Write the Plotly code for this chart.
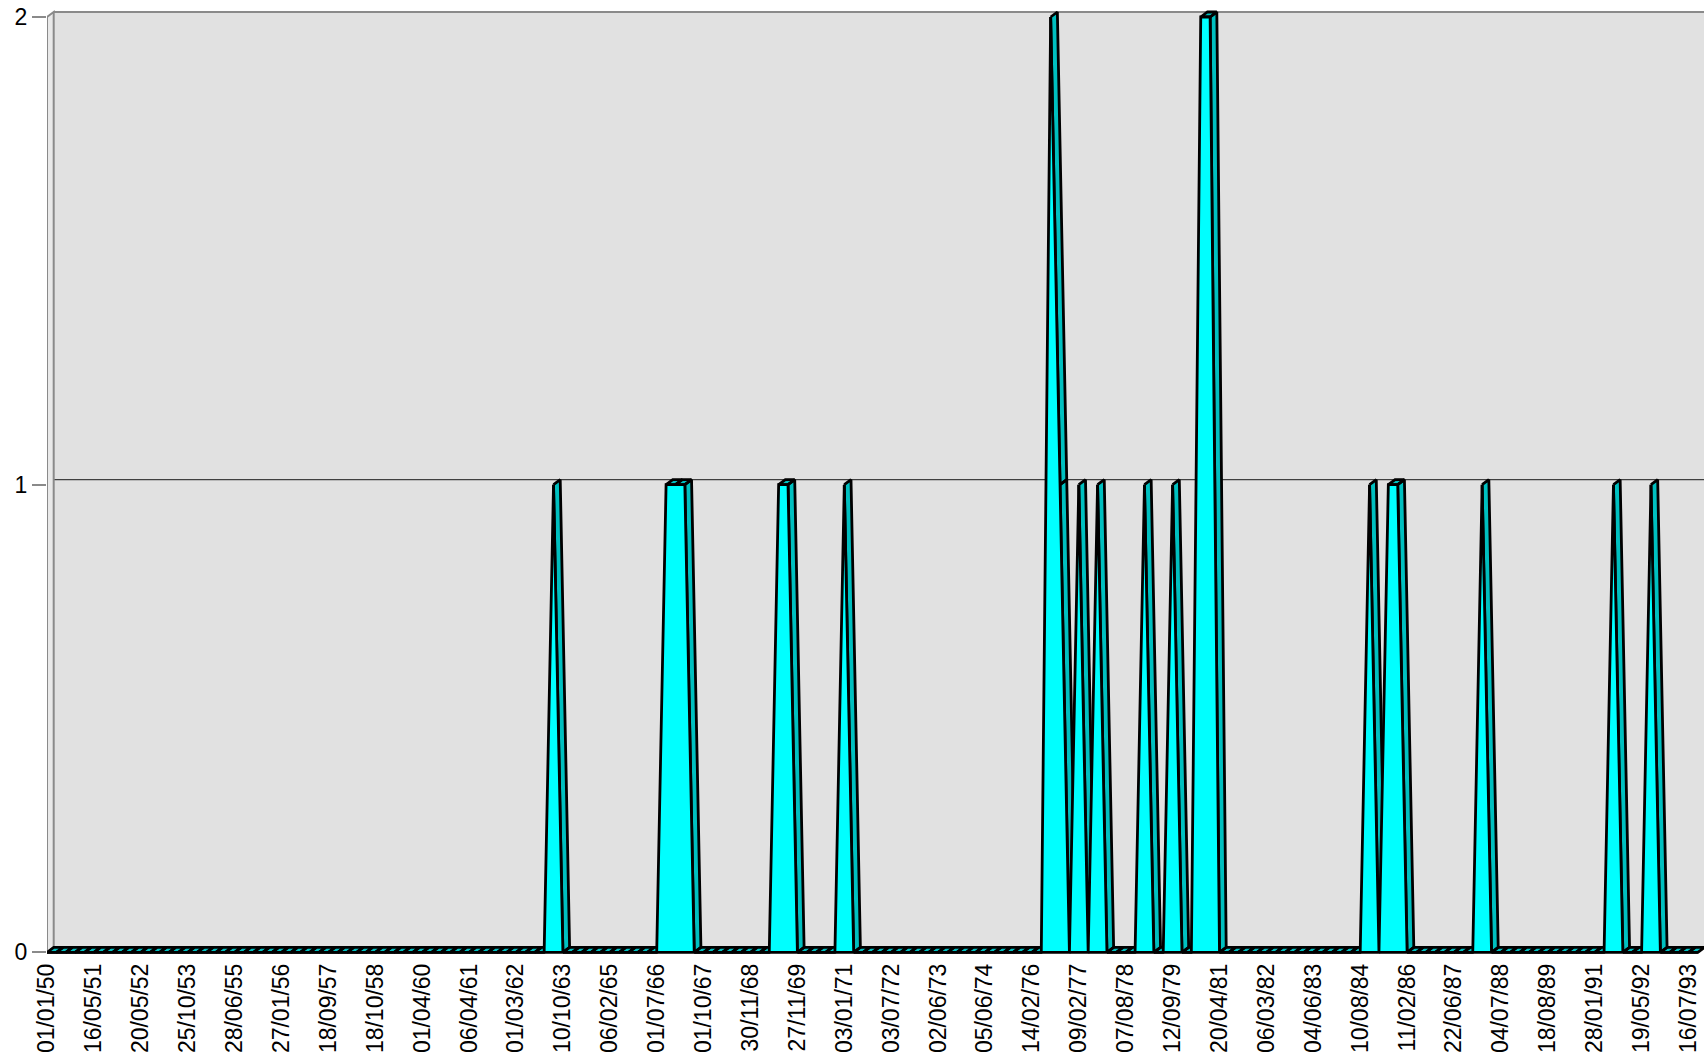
import plotly.graph_objects as go

# ---------------- data ----------------
tick_labels = ["01/01/50", "16/05/51", "20/05/52", "25/10/53", "28/06/55", "27/01/56",
               "18/09/57", "18/10/58", "01/04/60", "06/04/61", "01/03/62", "10/10/63",
               "06/02/65", "01/07/66", "01/10/67", "30/11/68", "27/11/69", "03/01/71",
               "03/07/72", "02/06/73", "05/06/74", "14/02/76", "09/02/77", "07/08/78",
               "12/09/79", "20/04/81", "06/03/82", "04/06/83", "10/08/84", "11/02/86",
               "22/06/87", "04/07/88", "18/08/89", "28/01/91", "19/05/92", "16/07/93"]
tick_every = 5  # one date label every 5 categories

values = [
    0, 0, 0, 0, 0, 0, 0, 0, 0, 0, 0, 0, 0, 0, 0, 0, 0, 0, 0, 0, 0, 0, 0, 0, 0,
    0, 0, 0, 0, 0, 0, 0, 0, 0, 0, 0, 0, 0, 0, 0, 0, 0, 0, 0, 0, 0, 0, 0, 0, 0,
    0, 0, 0, 0, 1, 0, 0, 0, 0, 0, 0, 0, 0, 0, 0, 0, 1, 1, 1, 0, 0, 0, 0, 0, 0,
    0, 0, 0, 1, 1, 0, 0, 0, 0, 0, 1, 0, 0, 0, 0, 0, 0, 0, 0, 0, 0, 0, 0, 0, 0,
    0, 0, 0, 0, 0, 0, 0, 2, 1, 0, 1, 0, 1, 0, 0, 0, 0, 1, 0, 0, 1, 0, 0, 2, 2,
    0, 0, 0, 0, 0, 0, 0, 0, 0, 0, 0, 0, 0, 0, 0, 0, 1, 0, 1, 1, 0, 0, 0, 0, 0,
    0, 0, 0, 1, 0, 0, 0, 0, 0, 0, 0, 0, 0, 0, 0, 0, 0, 1, 0, 0, 0, 1, 0, 0, 0,
    0, 0,
]
y_ticks = [0, 1, 2]

# ---------------- geometry ----------------
W, H = 1704, 1056
ML, MR, MT, MB = 47, 0, 9, 98
PX_X = 9.38      # pixels per category
PX_Y = 467.7     # pixels per unit value
DEPTH_X, DEPTH_Y = 6.7, 5.0   # 3D depth offset in pixels

plot_w = W - ML - MR
plot_h = H - MT - MB
XMAX = plot_w / PX_X
dx = DEPTH_X / PX_X
dy = DEPTH_Y / PX_Y
TOP = max(y_ticks) + dy
YMAX = TOP + 3 / PX_Y
YMIN = YMAX - plot_h / PX_Y

n = len(values)
cats = list(range(n))
tick_pos = [i * tick_every for i in range(len(tick_labels))]

fig = go.Figure()

# depth ("top") faces of the area: visible for flat and descending segments
rx, ry = [], []
for i in range(n - 1):
    y0, y1 = values[i], values[i + 1]
    if y1 <= y0:
        rx += [i, i + 1, i + 1 + dx, i + dx, i, None]
        ry += [y0, y1, y1 + dy, y0 + dy, y0, None]
fig.add_trace(go.Scatter(x=rx, y=ry, mode="lines", fill="toself",
                         fillcolor="#00C0C0", line=dict(color="black", width=2.8),
                         hoverinfo="skip", showlegend=False))

# front face of the area
fig.add_trace(go.Scatter(x=cats + [n - 1, 0], y=values + [0, 0], mode="lines",
                         fill="toself", fillcolor="#00FFFF",
                         line=dict(color="black", width=2.8),
                         hoverinfo="skip", showlegend=False))

shapes = []
# back wall
shapes.append(dict(type="rect", xref="x", yref="y", layer="below",
                   x0=dx, x1=XMAX + 1, y0=dy, y1=TOP,
                   fillcolor="#E1E1E1", line=dict(width=0)))
# gridlines on back wall and side wall
for t in y_ticks[1:-1]:
    shapes.append(dict(type="line", xref="x", yref="y", layer="below",
                       x0=dx, x1=XMAX + 1, y0=t + dy, y1=t + dy,
                       line=dict(color="#404040", width=1.2)))
    shapes.append(dict(type="line", xref="x", yref="y", layer="below",
                       x0=0, x1=dx, y0=t, y1=t + dy,
                       line=dict(color="#404040", width=1.2)))
# top edge of back wall
shapes.append(dict(type="line", xref="x", yref="y", layer="below",
                   x0=dx, x1=XMAX + 1, y0=TOP, y1=TOP,
                   line=dict(color="#8A8A8A", width=2)))
# left side wall
shapes.append(dict(type="path", xref="x", yref="y", layer="below",
                   path=f"M 0,0 L {dx},{dy} L {dx},{TOP} L 0,{max(y_ticks)} Z",
                   fillcolor="#E9E9E9", line=dict(color="#8A8A8A", width=2)))

fig.update_layout(
    width=W, height=H,
    margin=dict(l=ML, r=MR, t=MT, b=MB, pad=0),
    paper_bgcolor="white", plot_bgcolor="white",
    shapes=shapes,
    font=dict(family="Liberation Sans, Arial, sans-serif", color="black"),
    xaxis=dict(range=[0, XMAX], tickmode="array", tickvals=tick_pos, ticktext=tick_labels,
               tickangle=-90, tickfont=dict(size=23, color="black"),
               showgrid=False, zeroline=False, showline=False, ticks=""),
    yaxis=dict(range=[YMIN, YMAX], tickmode="array", tickvals=y_ticks,
               ticktext=[str(t) for t in y_ticks],
               tickfont=dict(size=23, color="black"),
               ticks="outside", ticklen=14, tickwidth=2, tickcolor="#8A8A8A",
               showgrid=False, zeroline=False, showline=False),
)

fig.write_html("out.html", config={"displayModeBar": False},
               post_script="document.body.style.margin='0';document.body.style.overflow='hidden';")
